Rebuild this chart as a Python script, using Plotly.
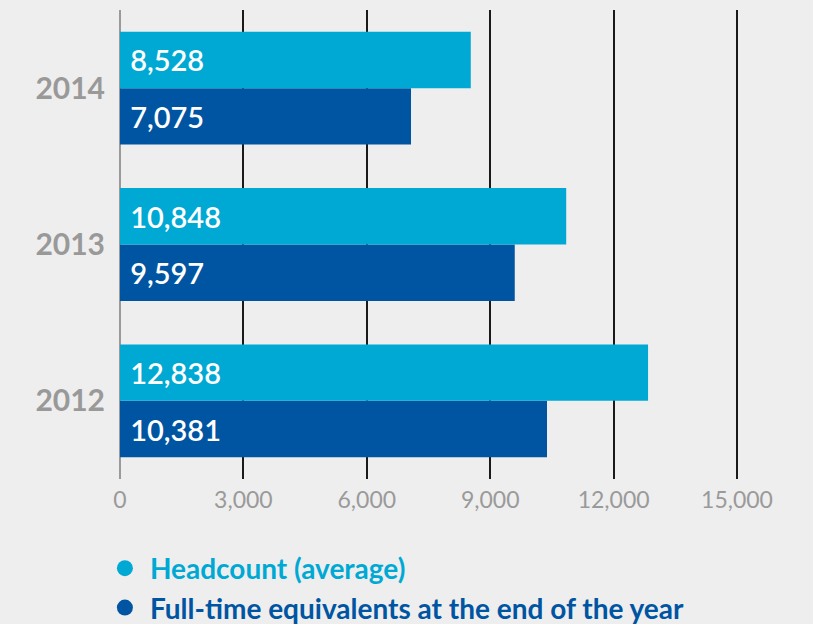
import plotly.graph_objects as go

years = ["2012", "2013", "2014"]
headcount = [12838, 10848, 8528]
fte = [10381, 9597, 7075]
series_names = ["Headcount (average)", "Full-time equivalents at the end of the year"]
colors = ["#00a9d4", "#0055a2"]
tick_vals = [0, 3000, 6000, 9000, 12000, 15000]
tick_text = ["0", "3,000", "6,000", "9,000", "12,000", "15,000"]

FONT = "Lato"
NB = "\u00a0"

fig = go.Figure()
# horizontal grouped bars: first trace is drawn lowest, so add FTE first
for vals, name, col in [(fte, series_names[1], colors[1]), (headcount, series_names[0], colors[0])]:
    fig.add_trace(go.Bar(
        y=years, x=vals, orientation="h", name=name, marker_color=col,
        marker_line_width=0,
        text=[NB + f"{v:,}" for v in vals], textposition="inside",
        insidetextanchor="start", textangle=0,
        textfont=dict(family=FONT, size=29, color="white", weight=600),
        showlegend=False, cliponaxis=False,
    ))
# legend entries (circle markers)
for name, col in zip(series_names, colors):
    fig.add_trace(go.Scatter(
        x=[None], y=[None], mode="markers", marker=dict(size=16, color=col, symbol="circle"),
        name=f"<b><span style='color:{col}'>{name}</span></b>",
    ))

fig.update_layout(
    width=813, height=624,
    paper_bgcolor="#eeeeee", plot_bgcolor="#eeeeee",
    margin=dict(l=120, r=0, t=10, b=145, autoexpand=False),
    barmode="group", bargap=0.278, bargroupgap=0,
    font=dict(family=FONT),
    xaxis=dict(range=[0, 16848], tickvals=tick_vals, ticktext=tick_text,
               showgrid=True, gridcolor="#1a1a1a", gridwidth=2,
               zeroline=True, zerolinecolor="#9a9a9a", zerolinewidth=2,
               tickfont=dict(family=FONT, size=23, color="#9a9a9a"),
               ticks="", ticklabelstandoff=5, fixedrange=True),
    yaxis=dict(range=[-0.5, 2.5], showgrid=False, zeroline=False, categoryorder="array",
               categoryarray=years,
               tickfont=dict(family=FONT, size=30, color="#999999", weight=700),
               ticks="", ticklabelstandoff=14, fixedrange=True),
    legend=dict(x=-0.029, y=0.129, yref="container", xanchor="left", yanchor="top",
                orientation="v",
                font=dict(family=FONT, size=28), tracegroupgap=0, itemwidth=40,
                bgcolor="rgba(0,0,0,0)"),
    showlegend=True,
)
fig.write_html("out.html")
